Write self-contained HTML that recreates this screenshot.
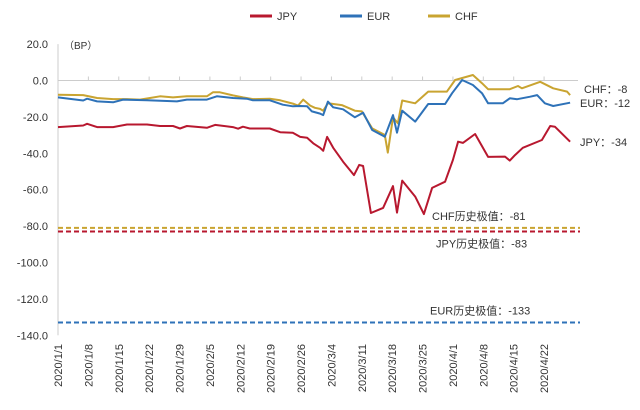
<!DOCTYPE html>
<html><head><meta charset="utf-8"><style>
body{margin:0;background:#fff;}
svg text{font-family:"Liberation Sans","Noto Sans CJK SC",sans-serif;fill:#333;}
</style></head><body>
<svg id="chart" width="640" height="405" viewBox="0 0 640 405"></svg>
<script>
const yTicks=[20,0,-20,-40,-60,-80,-100,-120,-140];
const xTickLabels=["2020/1/1","2020/1/8","2020/1/15","2020/1/22","2020/1/29","2020/2/5","2020/2/12","2020/2/19","2020/2/26","2020/3/4","2020/3/11","2020/3/18","2020/3/25","2020/4/1","2020/4/8","2020/4/15","2020/4/22"];
const jpyDays=[0,5.8,6.7,9,12.7,15.9,20.5,23.5,26.5,28.1,29.7,34.3,36.2,40.3,41.5,42.6,44.2,48.8,51.2,54.1,55.8,57.4,58.8,60.4,61.1,62,63.4,65.7,68.2,69.4,70.3,72.1,74.9,77.2,78.1,79.3,82.3,84.3,86.2,89.2,91,92.2,93.3,96.1,99.1,103,104.1,105.3,107.1,111.5,113.4,114.5,118];
const jpyVals=[-25.6,-24.7,-23.8,-25.6,-25.6,-24.2,-24.2,-25,-25,-26.4,-25,-26,-24.4,-25.6,-26.5,-25.4,-26.4,-26.4,-28.4,-28.7,-31,-31.5,-34.5,-37,-38.6,-31,-37,-44.6,-52,-46.4,-47,-72.8,-70,-58,-72.6,-55,-63.8,-73.4,-59,-55.6,-43.7,-33.6,-34.3,-29.4,-42,-41.8,-44,-41,-37,-32.7,-25,-25.4,-33.6];
const eurDays=[0,5.8,6.7,9,12.7,15,20.5,27.4,29.7,34.3,36.6,40.3,43.5,44.9,48.8,51.8,54.1,55.8,57.4,58.5,60.4,61.1,62.2,63.4,65.7,68.4,70.3,72.4,75.3,77.2,78.1,79.3,82.3,85.3,89.2,90.8,93.1,95.6,97.7,99.1,102.5,104.1,105.8,108.8,110.4,112.2,114.1,118];
const eurVals=[-9.3,-11,-10,-11.5,-12,-10.5,-10.9,-11.5,-10.5,-10.5,-8.7,-9.6,-10,-10.9,-10.9,-13.3,-14.2,-14,-14.2,-17,-18.2,-19,-11.6,-14.7,-15.8,-20.2,-17.7,-27.2,-30.9,-19,-28.7,-16.6,-22.6,-12.9,-12.9,-7,0.3,-2.5,-7,-12.5,-12.5,-9.8,-10.3,-8.9,-8,-12.5,-14,-12.2];
const chfDays=[0,5.8,9,12.7,15.9,18.9,21.2,23.5,26.5,29.7,34.3,35.7,37.3,40.3,42.6,44.9,48.8,51.2,54.1,55.3,56.5,58.1,59.2,60.4,61.1,62.2,65.4,68.4,70,72.4,75.3,76,77.2,78.3,79.3,82.3,85.3,89.6,91.5,95.6,97.7,99.1,104.1,106,106.9,111.1,114.1,117.3,118];
const chfVals=[-7.8,-8,-9.6,-10.2,-10.2,-10.5,-9.6,-8.7,-9.3,-8.7,-8.7,-6.5,-6.5,-8.2,-9.3,-10.2,-10,-10.9,-12.7,-13.8,-10.5,-13.8,-15,-15.6,-16.6,-12.5,-13.5,-16.6,-17,-26.3,-29.9,-39.6,-20.2,-23.5,-11,-12.5,-6.1,-6.1,0.3,3,-1.5,-4.8,-4.8,-3,-4.3,-0.7,-4.3,-6.1,-8];
const extremeVals=[-81,-83,-133];
const extremeNames=["CHF","JPY","EUR"];
const lastLabels=["CHF：-8","EUR：-12","JPY：-34"];

const NS="http://www.w3.org/2000/svg";
const svg=document.getElementById('chart');
const X0=58,PXD=4.34,Y0=80.5,PXV=1.82;
const xS=d=>X0+d*PXD;
const yS=v=>Y0-v*PXV;
function mk(tag,attrs,parent){const e=document.createElementNS(NS,tag);for(const k in attrs)e.setAttribute(k,attrs[k]);(parent||svg).appendChild(e);return e;}
// axis
let ax=mk('line',{x1:X0,y1:yS(20),x2:X0,y2:yS(-140),stroke:'#ccc','stroke-width':1});


yTicks.forEach(v=>{
 const t=mk('text',{x:X0-10,y:yS(v)+4,'text-anchor':'end','font-size':11});
 t.textContent=v.toFixed(1);
 
 
});
let bp=mk('text',{x:64,y:49,'font-size':10});bp.textContent='（BP）';


let xa=mk('line',{x1:X0,y1:Y0,x2:578,y2:Y0,stroke:'#ccc','stroke-width':1});


xTickLabels.forEach((s,i)=>{
 const x=xS(i*7);
 const tk=mk('line',{x1:x,y1:Y0,x2:x,y2:Y0-4,stroke:'#ccc'});
 
 
 const t=mk('text',{x:0,y:0,'text-anchor':'end','font-size':11,transform:`translate(${x+4},344) rotate(-90)`});
 t.textContent=s;
 
 
});
const colors={JPY:'#b8182f',EUR:'#2e72b8',CHF:'#c9a431'};
// extreme lines
extremeVals.forEach((v,i)=>{
 const l=mk('line',{x1:X0,y1:yS(v),x2:580,y2:yS(v),stroke:colors[extremeNames[i]],'stroke-width':2,'stroke-dasharray':'5,3'});
 
 
});
const exPos=[[432,yS(-81)-8],[436,yS(-83)+16],[430,yS(-133)-8]];
extremeVals.forEach((v,i)=>{
 const t=mk('text',{x:exPos[i][0],y:exPos[i][1],'font-size':11});
 t.textContent=extremeNames[i]+'历史极值：'+v;
 
 
});
function series(days,vals,name){
 const d=days.map((dd,i)=>(i?'L':'M')+xS(dd).toFixed(1)+','+yS(vals[i]).toFixed(1)).join('');
 const p=mk('path',{d:d,fill:'none',stroke:colors[name],'stroke-width':2,'stroke-linejoin':'round'});
 
 
}
series(chfDays,chfVals,'CHF');
series(eurDays,eurVals,'EUR');
series(jpyDays,jpyVals,'JPY');
const lastPos=[[584,93],[580,107],[580,146]];
lastLabels.forEach((s,i)=>{
 const t=mk('text',{x:lastPos[i][0],y:lastPos[i][1],'font-size':11});
 t.textContent=s;
 
 
});
// legend
const leg=[['JPY',250],['EUR',340],['CHF',428]];
leg.forEach(([n,x])=>{
 const l=mk('line',{x1:x,y1:16,x2:x+22,y2:16,stroke:colors[n],'stroke-width':3});
 
 
 const t=mk('text',{x:x+27,y:20,'font-size':11});
 t.textContent=n;
 
 
});
</script>
</body></html>
